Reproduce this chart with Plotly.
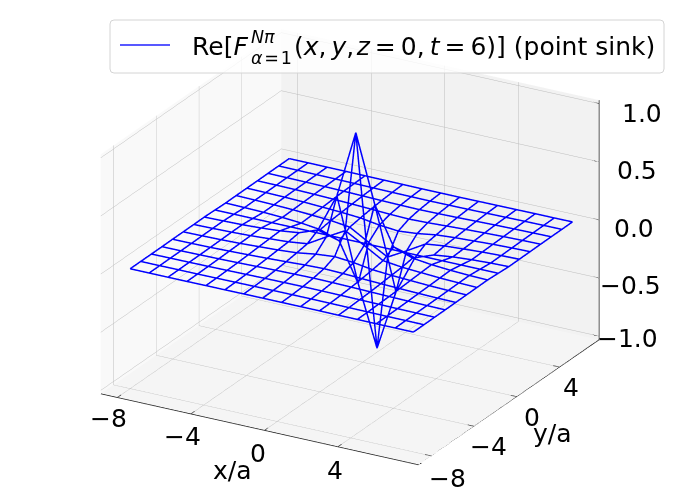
import plotly.graph_objects as go

x_vals = [-8, -6.97, -5.94, -4.91, -3.88, -2.85, -1.82, -0.79, 0.24, 1.27, 2.3, 3.33, 4.36, 5.39, 6.42, 7.41]
y_vals = [-8, -7.01, -6.01, -5.02, -4.03, -3.03, -2.04, -1.05, -0.05, 0.94, 1.93, 2.93, 3.92, 4.91, 5.91, 6.9]

row00 = [.001, .001, .001, .001, .002, .002, .003, .003, .003, .003, .003, .002, .002, .001, .001, .001]
row01 = [.001, .001, .002, .002, .003, .004, .005, .006, .006, .006, .005, .004, .003, .002, .002, .001]
row02 = [.001, .002, .003, .004, .006, .008, .01, .011, .012, .011, .01, .008, .006, .004, .003, .002]
row03 = [.001, .002, .004, .006, .009, .013, .017, .02, .022, .02, .017, .013, .009, .006, .004, .002]
row04 = [.002, .003, .005, .009, .014, .02, .027, .035, .04, .035, .027, .02, .014, .009, .005, .003]
row05 = [.002, .004, .007, .012, .02, .028, .04, .065, .08, .065, .04, .028, .02, .012, .007, .004]
row06 = [.002, .005, .009, .015, .025, .035, .055, .15, .24, .15, .055, .035, .025, .015, .009, .005]
row07 = [.003, .006, .01, .018, .03, .05, .11, .44, 1.02, .44, .11, .05, .03, .018, .01, .006]
row08 = [0, 0, 0, 0, 0, 0, 0, 0, 0, 0, 0, 0, 0, 0, 0, 0]
row09 = [-.003, -.006, -.01, -.018, -.03, -.05, -.11, -.44, -.96, -.44, -.11, -.05, -.03, -.018, -.01, -.006]
row10 = [-.002, -.005, -.009, -.015, -.025, -.035, -.055, -.15, -.24, -.15, -.055, -.035, -.025, -.015, -.009, -.005]
row11 = [-.002, -.004, -.007, -.012, -.02, -.028, -.04, -.065, -.08, -.065, -.04, -.028, -.02, -.012, -.007, -.004]
row12 = [-.002, -.003, -.005, -.009, -.014, -.02, -.027, -.035, -.04, -.035, -.027, -.02, -.014, -.009, -.005, -.003]
row13 = [-.001, -.002, -.004, -.006, -.009, -.013, -.017, -.02, -.022, -.02, -.017, -.013, -.009, -.006, -.004, -.002]
row14 = [-.001, -.002, -.003, -.004, -.006, -.008, -.01, -.011, -.012, -.011, -.01, -.008, -.006, -.004, -.003, -.002]
row15 = [-.001, -.001, -.002, -.002, -.003, -.004, -.005, -.006, -.006, -.006, -.005, -.004, -.003, -.002, -.002, -.001]
z_rows = [row00, row01, row02, row03, row04, row05, row06, row07, row08, row09, row10, row11, row12, row13, row14, row15]

x_ticks = [-8, -4, 0, 4]
y_ticks = [-8, -4, 0, 4]
z_ticks = [-1.0, -0.5, 0.0, 0.5, 1.0]
x_tick_labels = ["\u22128", "\u22124", "0", "4"]
y_tick_labels = ["\u22128", "\u22124", "0", "4"]
z_tick_labels = ["\u22121.0", "\u22120.5", "0.0", "0.5", "1.0"]

X_RANGE = [-8.9, 8.4]
Y_RANGE = [-9.2, 7.7]
Z_RANGE = [-1.03, 1.03]

xs, ys, zs = [], [], []
for j, row in enumerate(z_rows):
    for i, v in enumerate(row):
        xs.append(x_vals[i]); ys.append(y_vals[j]); zs.append(v)
    xs.append(None); ys.append(None); zs.append(None)
for i in range(len(x_vals)):
    for j, row in enumerate(z_rows):
        xs.append(x_vals[i]); ys.append(y_vals[j]); zs.append(row[i])
    xs.append(None); ys.append(None); zs.append(None)

W, H = 683, 503
FONT = "DejaVu Sans"
def px(v): return v / W
def py(v): return 1 - v / H

fig = go.Figure(go.Scatter3d(x=xs, y=ys, z=zs, mode="lines",
                             line=dict(color="#0000ff", width=3), showlegend=False, hoverinfo="skip"))

ax, ay, az = [], [], []
def seg(a, b):
    ax.extend([a[0], b[0], None]); ay.extend([a[1], b[1], None]); az.extend([a[2], b[2], None])
seg((X_RANGE[0], Y_RANGE[0], Z_RANGE[0]), (X_RANGE[1], Y_RANGE[0], Z_RANGE[0]))
seg((X_RANGE[1], Y_RANGE[0], Z_RANGE[0]), (X_RANGE[1], Y_RANGE[1], Z_RANGE[0]))
seg((X_RANGE[1], Y_RANGE[1], Z_RANGE[0]), (X_RANGE[1], Y_RANGE[1], Z_RANGE[1]))
for v in z_ticks:
    seg((X_RANGE[1] - 0.35, Y_RANGE[1], v), (X_RANGE[1], Y_RANGE[1], v))
for v in x_ticks:
    seg((v, Y_RANGE[0], Z_RANGE[0]), (v, Y_RANGE[0] + 0.35, Z_RANGE[0]))
for v in y_ticks:
    seg((X_RANGE[1], v, Z_RANGE[0]), (X_RANGE[1] - 0.35, v, Z_RANGE[0]))
fig.add_trace(go.Scatter3d(x=ax, y=ay, z=az, mode="lines", line=dict(color="#222222", width=1.5),
                           showlegend=False, hoverinfo="skip"))

def axis(rng, tickvals, bg):
    return dict(range=rng, autorange=False, tickmode="array", tickvals=tickvals, showbackground=True,
                backgroundcolor=bg, gridcolor="#bcbcbc", gridwidth=1, showline=False,
                zeroline=False, ticks="", showticklabels=False,
                showspikes=False, title=dict(text=""))

x_shift = [(-9, -21), (-8, -23), (-6, -23), (-3, -24)]
y_shift = [(16, -22), (14, -20), (15, -21), (11, -20)]
z_shift = [(28, -2), (31, -7), (35, -9), (38, -9), (43, -10)]
annots = []
for v, t, s in zip(x_ticks, x_tick_labels, x_shift):
    annots.append(dict(x=v, y=Y_RANGE[0], z=Z_RANGE[0], text=t, showarrow=False, xanchor="center", yanchor="middle",
                       xshift=s[0], yshift=s[1], font=dict(family=FONT, size=25, color="#000000")))
for v, t, s in zip(y_ticks, y_tick_labels, y_shift):
    annots.append(dict(x=X_RANGE[1], y=v, z=Z_RANGE[0], text=t, showarrow=False, xanchor="center", yanchor="middle",
                       xshift=s[0], yshift=s[1], font=dict(family=FONT, size=25, color="#000000")))
for v, t, s in zip(z_ticks, z_tick_labels, z_shift):
    annots.append(dict(x=X_RANGE[1], y=Y_RANGE[1], z=v, text=t, showarrow=False, xanchor="center", yanchor="middle",
                       xshift=s[0], yshift=s[1], font=dict(family=FONT, size=25, color="#000000")))

eye_d = 4
fig.update_layout(
    width=W, height=H, margin=dict(l=0, r=0, t=0, b=0), paper_bgcolor="white", showlegend=False,
    font=dict(family=FONT, size=25, color="#000000"),
    scene=dict(
        domain=dict(x=[17 / W, 1], y=[9 / H, 1]),
        xaxis=axis(X_RANGE, x_ticks, "#f9f9f9"),
        yaxis=axis(Y_RANGE, y_ticks, "#f2f2f2"),
        zaxis=axis(Z_RANGE, z_ticks, "#f5f5f5"),
        aspectmode="manual", aspectratio=dict(x=1.48, y=1.48, z=1.055),
        camera=dict(eye=dict(x=eye_d * .4537, y=-eye_d * .7995, z=eye_d * .3939),
                    up=dict(x=0, y=0, z=1), center=dict(x=0, y=0, z=0),
                    projection=dict(type="orthographic")),
        annotations=annots,
    ),
    shapes=[
        dict(type="path", xref="paper", yref="paper",
             path=f"M {px(114)} {py(20)} L {px(660)} {py(20)} Q {px(664)} {py(20)} {px(664)} {py(24)} "
                  f"L {px(664)} {py(69)} Q {px(664)} {py(73)} {px(660)} {py(73)} L {px(114)} {py(73)} "
                  f"Q {px(110)} {py(73)} {px(110)} {py(69)} L {px(110)} {py(24)} Q {px(110)} {py(20)} {px(114)} {py(20)} Z",
             line=dict(color="#d4d4d4", width=1), fillcolor="rgba(255,255,255,0.8)", layer="above"),
        dict(type="line", xref="paper", yref="paper", x0=px(120), x1=px(170), y0=py(45), y1=py(45),
             line=dict(color="#2020ff", width=1.5), layer="above"),
    ],
)

def note(text, x, y, size=25, anchor="left"):
    fig.add_annotation(text=text, xref="paper", yref="paper", x=px(x), y=py(y), showarrow=False, borderpad=0,
                       xanchor=anchor, yanchor="middle", font=dict(family=FONT, size=size, color="#000000"))

note("Re[<i>F</i>", 191, 46)
note("<i>N\u03c0</i>", 250, 37, 17.5)
note("<i>\u03b1</i>\u200a=\u200a1", 250, 58, 17.5)
note("(<i>x</i>,\u2009<i>y</i>,\u200a<i>z</i>\u2009=\u20090,\u2009<i>t</i>\u2009=\u20096)] (point sink)", 293, 46)
note("x/a", 232, 470, anchor="center")
note("y/a", 552, 433, anchor="center")

fig.write_html("out.html", config=dict(displayModeBar=False),
               post_script="document.body.style.margin='0';")
